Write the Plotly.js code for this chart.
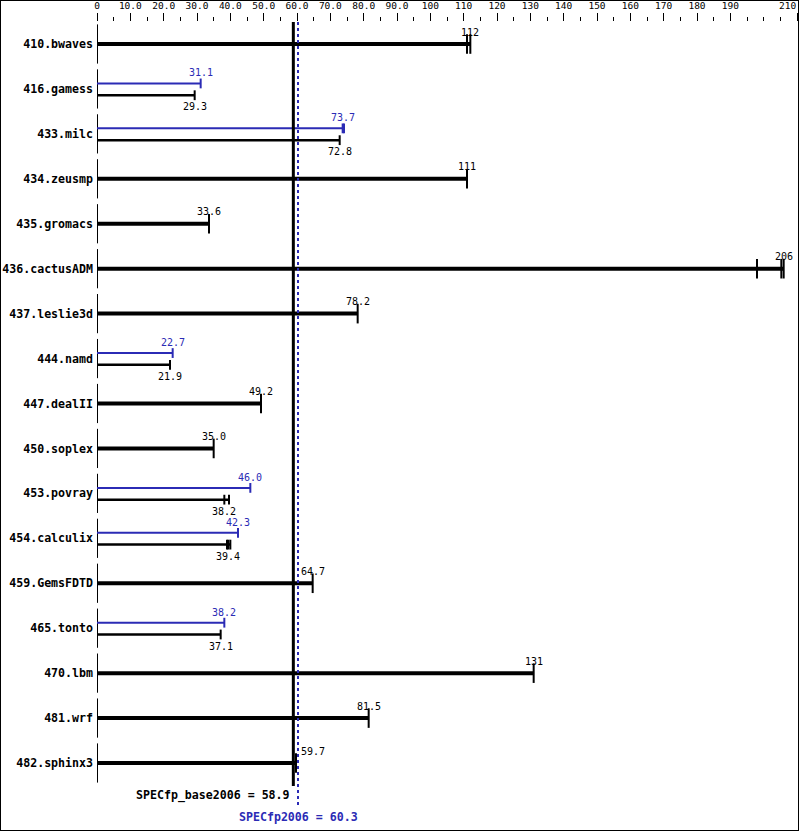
<!DOCTYPE html>
<html>
<head>
<meta charset="utf-8">
<script src="https://cdn.plot.ly/plotly-3.0.1.min.js"></script>
<style>
html,body{margin:0;padding:0;background:#fff;}
#chart{width:797px;height:829px;border:1px solid #000;}
</style>
</head>
<body>
<div id="chart"></div>
<script>
const benchmarks = ['410.bwaves','416.gamess','433.milc','434.zeusmp','435.gromacs','436.cactusADM','437.leslie3d','444.namd','447.dealII','450.soplex','453.povray','454.calculix','459.GemsFDTD','465.tonto','470.lbm','481.wrf','482.sphinx3'];
const baseScores = [112, 29.3, 72.8, 111, 33.6, 206, 78.2, 21.9, 49.2, 35.0, 38.2, 39.4, 64.7, 37.1, 131, 81.5, 59.7];
const baseLabels = ['112','29.3','72.8','111','33.6','206','78.2','21.9','49.2','35.0','38.2','39.4','64.7','37.1','131','81.5','59.7'];
const peakScores = [null, 31.1, 73.7, null, null, null, null, 22.7, null, null, 46.0, 42.3, null, 38.2, null, null, null];
const peakLabels = [null,'31.1','73.7',null,null,null,null,'22.7',null,null,'46.0','42.3',null,'38.2',null,null,null];
// individual run results visible as extra ticks
const runBench  = ['410.bwaves','436.cactusADM','436.cactusADM','433.milc','453.povray','454.calculix','454.calculix'];
const runSeries = ['base','base','base','peak','base','base','base'];
const runScores = [111.0, 198.0, 205.3, 74.1, 39.6, 39.0, 40.0];
const specBase = 58.9, specPeak = 60.3;
const specBaseLabel = 'SPECfp_base2006 = 58.9';
const specPeakLabel = 'SPECfp2006 = 60.3';
const xTickVals = [0,10,20,30,40,50,60,70,80,90,100,110,120,130,140,150,160,170,180,190,210];
const xTickText = ['0','10.0','20.0','30.0','40.0','50.0','60.0','70.0','80.0','90.0','100','110','120','130','140','150','160','170','180','190','210'];

const BLUE = '#2b2bb5';
const FONT = 'DejaVu Sans Mono';
const PX = 44.94; // px per row
const peakOff = -5.5/PX, baseOff = 6.3/PX;

const idx = benchmarks.map((b,i)=>i);
const traces = [];

// left axis segments
traces.push({x: idx.map(()=>0.15), y: idx, mode:'markers', type:'scatter', hoverinfo:'skip',
  marker:{symbol:'line-ns', size:28, line:{width:1, color:'#000'}}});

function runsFor(i, series){
  const r=[]; runBench.forEach((b,k)=>{ if(b===benchmarks[i] && runSeries[k]===series) r.push(runScores[k]); }); return r;
}
const thickX=[], thickY=[], thinBX=[], thinBY=[], thinPX=[], thinPY=[];
const tkThickX=[], tkThickY=[], tkBX=[], tkBY=[], tkPX=[], tkPY=[];
idx.forEach(i=>{
  const single = peakScores[i]===null;
  const bRuns = runsFor(i,'base');
  const bEnd = Math.max(baseScores[i], ...bRuns);
  if(single){
    thickX.push(0,bEnd,null); thickY.push(i,i,null);
    tkThickX.push(baseScores[i], ...bRuns); tkThickY.push(i, ...bRuns.map(()=>i));
  } else {
    const yb = i+baseOff, yp = i+peakOff;
    thinBX.push(0,bEnd,null); thinBY.push(yb,yb,null);
    tkBX.push(baseScores[i], ...bRuns); tkBY.push(yb, ...bRuns.map(()=>yb));
    const pRuns = runsFor(i,'peak');
    const pEnd = Math.max(peakScores[i], ...pRuns);
    thinPX.push(0,pEnd,null); thinPY.push(yp,yp,null);
    tkPX.push(peakScores[i], ...pRuns); tkPY.push(yp, ...pRuns.map(()=>yp));
  }
});
traces.push({x:thickX,y:thickY,mode:'lines',type:'scatter',hoverinfo:'skip',line:{color:'#000',width:4}});
traces.push({x:thinBX,y:thinBY,mode:'lines',type:'scatter',hoverinfo:'skip',line:{color:'#000',width:2.5}});
traces.push({x:thinPX,y:thinPY,mode:'lines',type:'scatter',hoverinfo:'skip',line:{color:BLUE,width:2}});
traces.push({x:tkThickX,y:tkThickY,mode:'markers',type:'scatter',hoverinfo:'skip',marker:{symbol:'line-ns',size:14,line:{width:2,color:'#000'}}});
traces.push({x:tkBX,y:tkBY,mode:'markers',type:'scatter',hoverinfo:'skip',marker:{symbol:'line-ns',size:7,line:{width:2,color:'#000'}}});
traces.push({x:tkPX,y:tkPY,mode:'markers',type:'scatter',hoverinfo:'skip',marker:{symbol:'line-ns',size:7,line:{width:2,color:BLUE}}});

const annotations = [];
function labelPos(v){
  if(Math.abs(v - specPeak) < 6) return {x: specPeak, xanchor:'left', xshift:1};
  return {x: v, xanchor:'center', xshift:0};
}
idx.forEach(i=>{
  const single = peakScores[i]===null;
  const lp = labelPos(baseScores[i]);
  annotations.push(Object.assign({xref:'x', yref:'y', y:i, yanchor:'middle', showarrow:false,
    text: baseLabels[i], font:{family:FONT, size:10, color:'#000'},
    yshift: single ? 12 : -18}, lp));
  if(!single){
    const pp = labelPos(peakScores[i]);
    annotations.push(Object.assign({xref:'x', yref:'y', y:i, yanchor:'middle', showarrow:false,
      text: peakLabels[i], font:{family:FONT, size:10, color:BLUE}, yshift:16}, pp));
  }
});
annotations.push({xref:'x', yref:'paper', x:specBase, y:0, xanchor:'right', yanchor:'middle', yshift:-9, xshift:-1,
  showarrow:false, text:'<b>'+specBaseLabel+'</b>', font:{family:FONT, size:11.6, color:'#000'}});
annotations.push({xref:'x', yref:'paper', x:specPeak, y:0, xanchor:'center', yanchor:'middle', yshift:-31,
  showarrow:false, text:'<b>'+specPeakLabel+'</b>', font:{family:FONT, size:11.6, color:BLUE}});
// last top-axis label sits right-aligned at the edge
const lastTick = xTickVals[xTickVals.length-1];
annotations.push({xref:'x', yref:'paper', x:lastTick, y:1, xanchor:'right', yanchor:'middle', yshift:17, xshift:1,
  showarrow:false, text:xTickText[xTickText.length-1], font:{family:FONT, size:9.5, color:'#000'}});
const xTickTextShown = xTickText.map((t,k)=> k===xTickText.length-1 ? '' : t);

const shapes = [
  {type:'line', xref:'x', yref:'paper', x0:specBase, x1:specBase, y0:1, y1:0, line:{color:'#000', width:3}},
  {type:'line', xref:'x', yref:'paper', x0:specPeak, x1:specPeak, y0:1, y1:-22/764, line:{color:BLUE, width:2, dash:'dot'}}
];

const layout = {
  width:797, height:829,
  margin:{l:96, r:0, t:21, b:44},
  paper_bgcolor:'#fff', plot_bgcolor:'#fff',
  showlegend:false,
  font:{family:FONT, color:'#000'},
  xaxis:{side:'top', range:[0,210.3], tickmode:'array', tickvals:xTickVals, ticktext:xTickTextShown,
    ticks:'outside', ticklen:8, tickwidth:1, tickcolor:'#000',
    minor:{tickmode:'linear', tick0:0, dtick:5, ticks:'outside', ticklen:4, tickwidth:1, tickcolor:'#000'},
    showgrid:false, zeroline:false, showline:false, tickfont:{family:FONT, size:9.5, color:'#000'}, fixedrange:true},
  yaxis:{range:[16+23/PX, -22/PX], tickmode:'array', tickvals:idx, ticktext:benchmarks.map(b=>'<b>'+b+'</b>'),
    ticks:'', showgrid:false, zeroline:false, showline:false, ticklabelstandoff:3,
    tickfont:{family:FONT, size:11.6, color:'#000'}, fixedrange:true},
  annotations, shapes
};
Plotly.newPlot('chart', traces, layout, {displayModeBar:false, staticPlot:true});
</script>
</body>
</html>
